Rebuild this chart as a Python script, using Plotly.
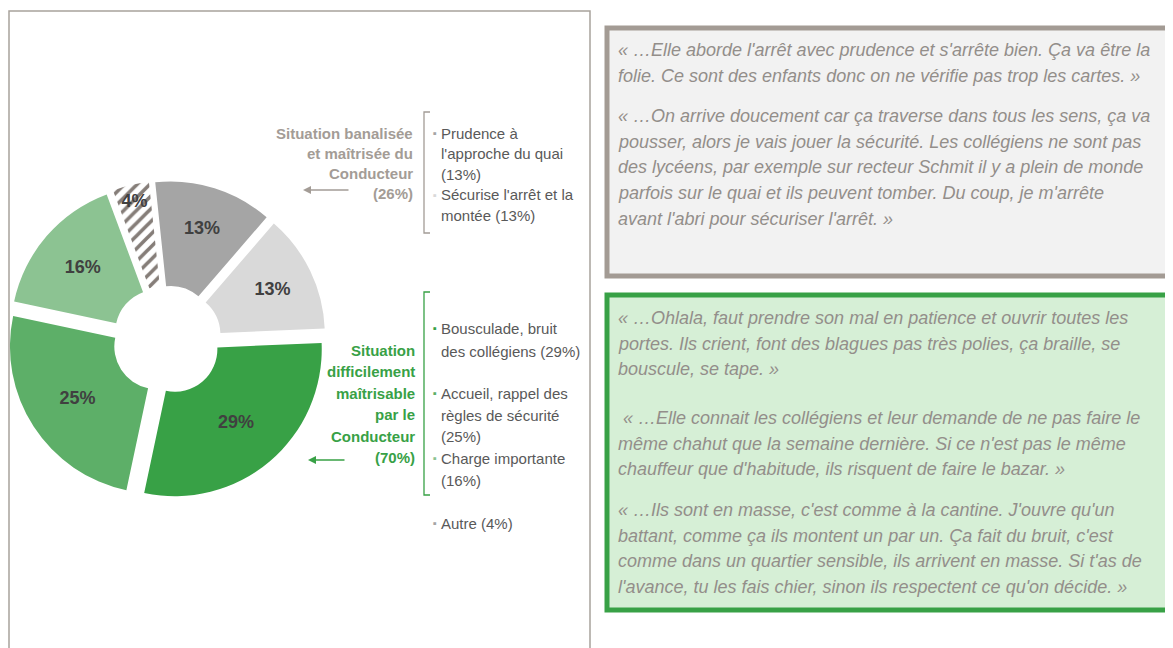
import plotly.graph_objects as go

# the page body adds an 8px margin, so the figure is drawn 8px in and 8px down
OFF = 8
W, H = 1173 - OFF, 648 - OFF

# slices, clockwise from the top
labels = ["Prudence à l'approche du quai", "Sécurise l'arrêt et la montée",
          "Bousculade, bruit des collégiens", "Accueil, rappel des règles de sécurité",
          "Charge importante", "Autre"]
values = [13, 13, 29, 25, 16, 4]
slice_text = ["13%", "13%", "29%", "25%", "16%", "4%"]
slice_colors = ["#a5a5a5", "#d9d9d9", "#38a146", "#5daf68", "#8cc392", "#ffffff"]
slice_patterns = ["", "", "", "", "", "/"]

grey_group = ["Situation banalisée", "et maîtrisée du", "Conducteur", "(26%)"]
green_group = ["Situation", "difficilement", "maîtrisable", "par le", "Conducteur", "(70%)"]

# (bullet colour or None, text)
grey_legend = [("#a5a5a5", "Prudence à"), (None, "l'approche du quai"), (None, "(13%)"),
               ("#d9d9d9", "Sécurise l'arrêt et la"), (None, "montée (13%)")]
green_legend = [("#38a146", "Bousculade, bruit"), (None, "des collégiens (29%)"),
                ("#5daf68", "Accueil, rappel des"), (None, "règles de sécurité"), (None, "(25%)"),
                ("#8cc392", "Charge importante"), (None, "(16%)"),
                ("#a5a5a5", "Autre (4%)")]
green_legend_y = [328, 351, 393, 415, 436, 458, 480, 523]

grey_quotes = [
    ["« …Elle aborde l'arrêt avec prudence et s'arrête bien. Ça va être la",
     "folie. Ce sont des enfants donc on ne vérifie pas trop les cartes. »"],
    ["« …On arrive doucement car ça traverse dans tous les sens, ça va",
     "pousser, alors je vais jouer la sécurité. Les collégiens ne sont pas",
     "des lycéens, par exemple sur recteur Schmit il y a plein de monde",
     "parfois sur le quai et ils peuvent tomber. Du coup, je m'arrête",
     "avant l'abri pour sécuriser l'arrêt. »"],
]
green_quotes = [
    ["« …Ohlala, faut prendre son mal en patience et ouvrir toutes les",
     "portes. Ils crient, font des blagues pas très polies, ça braille, se",
     "bouscule, se tape. »"],
    [" « …Elle connait les collégiens et leur demande de ne pas faire le",
     "même chahut que la semaine dernière. Si ce n'est pas le même",
     "chauffeur que d'habitude, ils risquent de faire le bazar. »"],
    ["« …Ils sont en masse, c'est comme à la cantine. J'ouvre qu'un",
     "battant, comme ça ils montent un par un. Ça fait du bruit, c'est",
     "comme dans un quartier sensible, ils arrivent en masse. Si t'as de",
     "l'avance, tu les fais chier, sinon ils respectent ce qu'on décide. »"],
]
grey_quote_y = [50, 116]
green_quote_y = [318, 418, 510]

SANS = "Liberation Sans, Arial, sans-serif"
GREY_TXT = "#a39c96"
GREEN = "#38a146"
QUOTE_TXT = "#938e8a"


def px(x):
    return (x - OFF) / W


def py(y):
    return 1 - (y - OFF) / H


fig = go.Figure()

# pie: radius 147px, pull 12px, centre at (167, 340) on the page
R, PULL = 147, 12
half = R + PULL
cx, cy = 8 + half - OFF, H - (340 - OFF)
fig.add_trace(go.Pie(
    values=values, labels=labels, text=slice_text, textinfo="text",
    sort=False, direction="clockwise", rotation=-6, hole=0.29, pull=PULL / R,
    marker=dict(colors=slice_colors, line=dict(width=0),
                pattern=dict(shape=slice_patterns, fgcolor="#857d78",
                             bgcolor=slice_colors, size=9, solidity=0.4)),
    textposition="inside", insidetextorientation="horizontal",
    textfont=dict(family=SANS, size=18, color="#404040", weight="bold"),
    domain=dict(x=[max(0, (cx - half) / W), (cx + half) / W], y=[(cy - half) / H, (cy + half) / H]),
    showlegend=False, hoverinfo="label+percent",
))

ann = []
shapes = []

# left frame
shapes.append(dict(type="rect", xref="paper", yref="paper", x0=px(9), x1=px(590), y0=py(11), y1=py(660),
                   line=dict(color="#a8a29c", width=1.5), fillcolor="rgba(0,0,0,0)"))

# group captions
for i, t in enumerate(grey_group):
    ann.append(dict(x=px(415), y=py(133 + i * 20), text=t, xanchor="right", yanchor="middle",
                    font=dict(family=SANS, size=15, color=GREY_TXT, weight="bold")))
for i, t in enumerate(green_group):
    ann.append(dict(x=px(417), y=py(350 + i * 21.5), text=t, xanchor="right", yanchor="middle",
                    font=dict(family=SANS, size=15, color=GREEN, weight="bold")))

# arrows
ann.append(dict(x=px(303), y=py(190), ax=47, ay=0, text="", showarrow=True, arrowhead=2,
                arrowsize=1, arrowwidth=1.6, arrowcolor="#a39c96", xref="paper", yref="paper"))
ann.append(dict(x=px(308), y=py(460), ax=38, ay=0, text="", showarrow=True, arrowhead=2,
                arrowsize=1, arrowwidth=1.6, arrowcolor=GREEN, xref="paper", yref="paper"))

# brackets
for (top, bot, col) in [(112, 233, "#a39c96"), (292, 495, GREEN)]:
    shapes.append(dict(type="path", xref="paper", yref="paper",
                       path=f"M {px(430)},{py(top)} L {px(424)},{py(top)} L {px(424)},{py(bot)} L {px(430)},{py(bot)}",
                       line=dict(color=col, width=1.3)))

# legend lines
for i, (bc, t) in enumerate(grey_legend):
    y = 133 + i * 20.5
    if bc:
        ann.append(dict(x=px(431), y=py(y), text="▪", xanchor="left", yanchor="middle",
                        font=dict(family=SANS, size=11, color=bc)))
    ann.append(dict(x=px(439), y=py(y), text=t, xanchor="left", yanchor="middle",
                    font=dict(family=SANS, size=15, color="#595959")))
for (bc, t), y in zip(green_legend, green_legend_y):
    if bc:
        ann.append(dict(x=px(431), y=py(y), text="▪", xanchor="left", yanchor="middle",
                        font=dict(family=SANS, size=11, color=bc)))
    ann.append(dict(x=px(439), y=py(y), text=t, xanchor="left", yanchor="middle",
                    font=dict(family=SANS, size=15, color="#595959")))

# quote boxes
shapes.append(dict(type="rect", xref="paper", yref="paper", x0=px(607), x1=px(1185), y0=py(28), y1=py(276),
                   line=dict(color="#a39b94", width=5), fillcolor="#f2f2f2", layer="below"))
shapes.append(dict(type="rect", xref="paper", yref="paper", x0=px(607), x1=px(1185), y0=py(295), y1=py(610),
                   line=dict(color=GREEN, width=5), fillcolor="#d6efd6", layer="below"))

for paras, starts in [(grey_quotes, grey_quote_y), (green_quotes, green_quote_y)]:
    for lines, y0 in zip(paras, starts):
        for j, t in enumerate(lines):
            ann.append(dict(x=px(616), y=py(y0 + j * 25.7), text=f"<i>{t}</i>", xanchor="left", yanchor="middle",
                            font=dict(family=SANS, size=18, color=QUOTE_TXT)))

for a in ann:
    a.setdefault("xref", "paper")
    a.setdefault("yref", "paper")
    a.setdefault("showarrow", False)

fig.update_layout(
    width=W, height=H, margin=dict(l=0, r=0, t=0, b=0),
    paper_bgcolor="white", plot_bgcolor="white",
    annotations=ann, shapes=shapes,
    uniformtext=dict(minsize=18, mode="show"),
)

fig.write_html("out.html")
